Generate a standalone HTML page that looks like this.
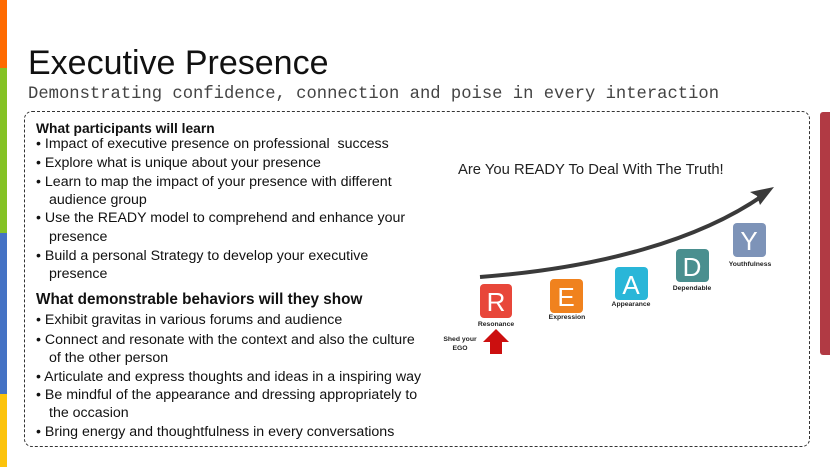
<!DOCTYPE html>
<html><head><style>
body{margin:0;width:830px;height:467px;background:#fff;position:relative;overflow:hidden;font-family:"Liberation Sans",sans-serif}
.a{position:absolute}
.t{position:absolute;left:36px;font-size:14.2px;color:#111;white-space:nowrap;line-height:19px}
</style></head><body>
<div class="a" style="left:0;top:0;width:7px;height:68px;background:#ff6a00"></div>
<div class="a" style="left:0;top:68px;width:7px;height:165px;background:#84c225"></div>
<div class="a" style="left:0;top:233px;width:7px;height:161px;background:#4472c4"></div>
<div class="a" style="left:0;top:394px;width:7px;height:73px;background:#fcc30c"></div>
<div class="a" style="left:820px;top:112px;width:10px;height:243px;background:#b13a44;border-radius:3px 0 0 3px"></div>
<div class="a" style="left:28px;top:42px;font-size:34px;color:#111;line-height:42px">Executive Presence</div>
<div class="a" style="left:28px;top:85px;font-family:'Liberation Mono',monospace;font-size:17.2px;color:#444">Demonstrating confidence, connection and poise in every interaction</div>
<div class="a" style="left:24px;top:111px;width:784px;height:334px;border:1.5px dashed #333;border-radius:8px"></div>
<div class="t" style="top:119px;font-weight:bold;font-size:13.8px">What participants will learn</div>
<div class="t" style="top:135px">• Impact of executive presence on professional&nbsp; success</div>
<div class="t" style="top:154px">• Explore what is unique about your presence</div>
<div class="t" style="top:173px">• Learn to map the impact of your presence with different</div>
<div class="t" style="top:191px;left:49px">audience group</div>
<div class="t" style="top:209px">• Use the READY model to comprehend and enhance your</div>
<div class="t" style="top:228px;left:49px">presence</div>
<div class="t" style="top:247px">• Build a personal Strategy to develop your executive</div>
<div class="t" style="top:265px;left:49px">presence</div>
<div class="t" style="top:290px;font-weight:bold;font-size:15.3px">What demonstrable behaviors will they show</div>
<div class="t" style="top:311px">• Exhibit gravitas in various forums and audience</div>
<div class="t" style="top:331px">• Connect and resonate with the context and also the culture</div>
<div class="t" style="top:349px;left:49px">of the other person</div>
<div class="t" style="top:368px">• Articulate and express thoughts and ideas in a inspiring way</div>
<div class="t" style="top:386px">• Be mindful of the appearance and dressing appropriately to</div>
<div class="t" style="top:404px;left:49px">the occasion</div>
<div class="t" style="top:423px">• Bring energy and thoughtfulness in every conversations</div>
<div class="a" style="left:458px;top:162px;font-size:14.8px;color:#222">Are You READY To Deal With The Truth!</div>
<svg class="a" style="left:0;top:0" width="830" height="467">
<path d="M480 277 C600 268 700 240 765 194" stroke="#3a3a3a" stroke-width="4" fill="none"/>
<polygon points="774,187 750,192 757,196 760,205" fill="#3a3a3a"/>
<polygon points="490,354 490,342 483,342 496,329 509,342 502,342 502,354" fill="#cc0f0f"/>
<g font-family="Liberation Sans,sans-serif" font-size="26" fill="#fff" text-anchor="middle">
<rect x="480" y="284" width="32" height="34" rx="4" fill="#e8473a"/><text x="496" y="311">R</text>
<rect x="550" y="279" width="33" height="34" rx="4" fill="#f0821e"/><text x="566" y="306">E</text>
<rect x="615" y="267" width="33" height="33" rx="4" fill="#29b6d8"/><text x="631" y="294">A</text>
<rect x="676" y="249" width="33" height="33" rx="4" fill="#4a8f8f"/><text x="692" y="276">D</text>
<rect x="733" y="223" width="33" height="34" rx="4" fill="#7d93b8"/><text x="749" y="250">Y</text>
</g>
<g font-family="Liberation Sans,sans-serif" font-size="6.8" font-weight="bold" fill="#222" text-anchor="middle">
<text x="496" y="326">Resonance</text>
<text x="567" y="319">Expression</text>
<text x="631" y="306">Appearance</text>
<text x="692" y="290">Dependable</text>
<text x="750" y="266">Youthfulness</text>
<text x="460" y="341">Shed your</text>
<text x="460" y="350">EGO</text>
</g>
</svg>
</body></html>
